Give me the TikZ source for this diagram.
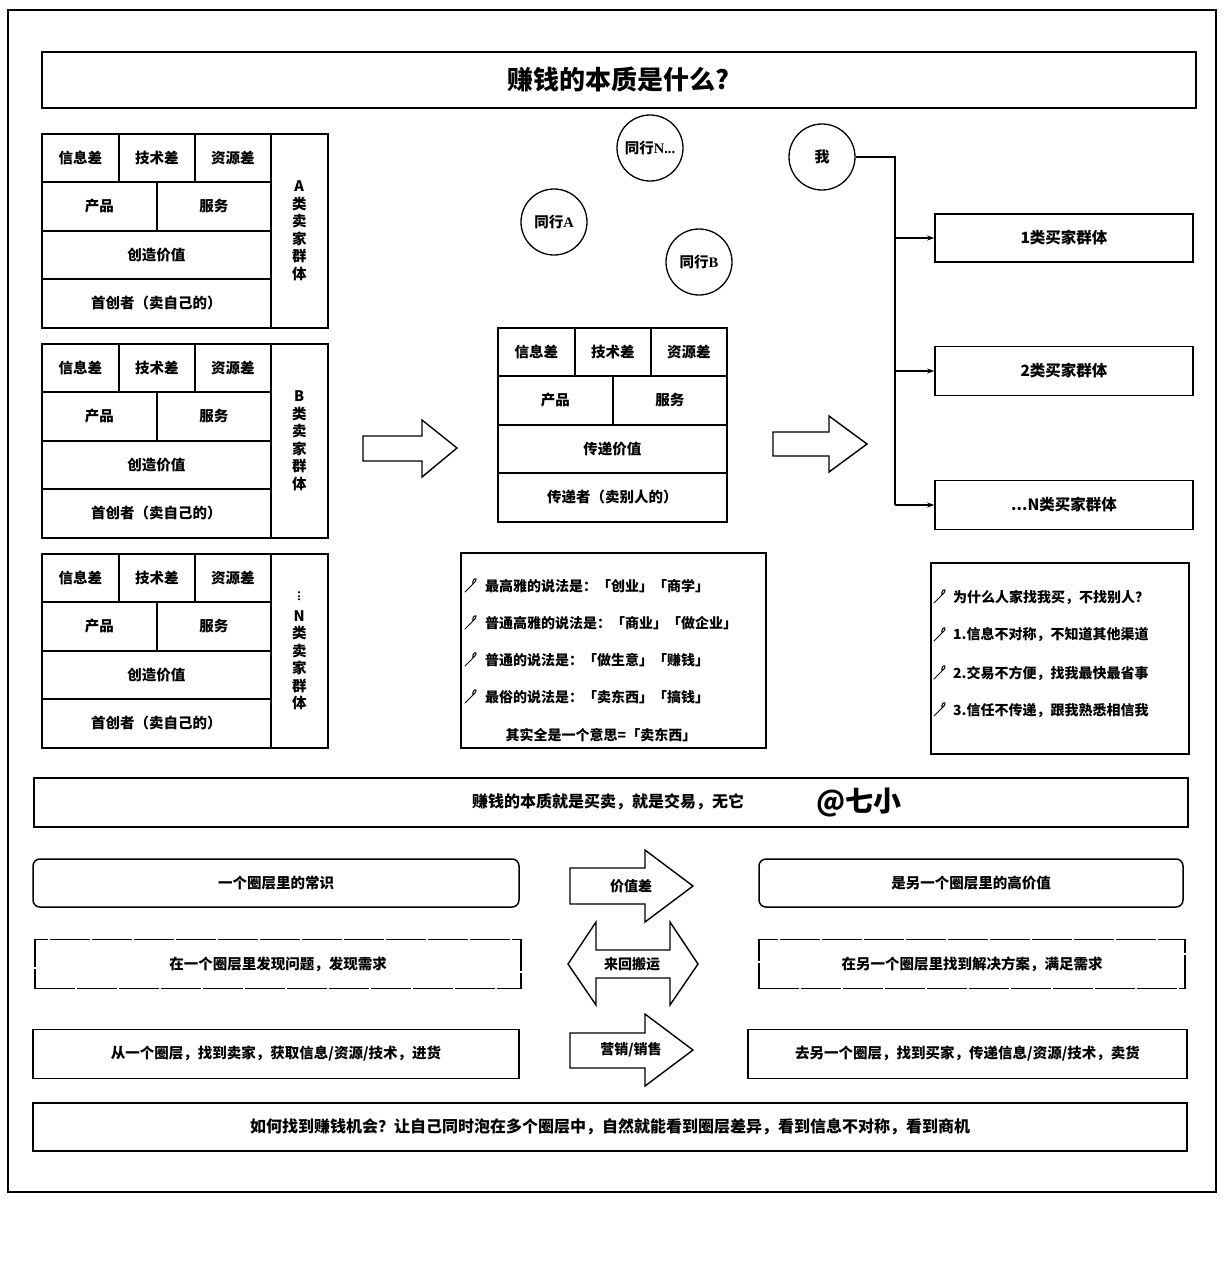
\documentclass[tikz,border=0pt]{standalone}
\usepackage{fontspec}
\setmainfont{Noto Sans CJK SC}
\newfontfamily\latserif{Liberation Serif}
\usetikzlibrary{arrows.meta}
\newcommand\fz[2]{\bfseries\fontsize{#1}{#2}\selectfont}
\tikzset{
  cell/.style={draw,line width=1.5pt,inner sep=0pt,anchor=north west,font=\fz{14.5}{17.5}},
  cbox/.style={draw,line width=1.5pt,inner sep=0pt,anchor=center,font=\fz{14.5}{17.5}},
  dashbox/.style={dash pattern=on 40pt off 2pt},
  peer/.style={circle,draw,line width=1.3pt,minimum size=66pt,inner sep=0pt,font=\fz{14.5}{17}},
  txt/.style={inner sep=0pt,font=\fz{14}{17}},
  blockarrow/.style={draw,line width=1.4pt,fill=white,line join=miter},
  link/.style={line width=1.4pt},
  tip/.style={-{Stealth[length=7pt,width=5pt]}},
  pinicon/.pic={\draw[line width=1pt,line cap=round] (-6,6) -- (2,-2) .. controls (4,-4) and (6,-6) .. (5,-7) .. controls (4,-8) and (1,-6) .. (2,-2);}
}
\newcommand\cellstack[5]{%
  \node[cell,minimum width=77pt,minimum height=48pt] (#3-c1) at (#1,#2) {信息差};
  \node[cell,minimum width=76pt,minimum height=48pt] (#3-c2) at (#1+77,#2) {技术差};
  \node[cell,minimum width=76pt,minimum height=48pt] (#3-c3) at (#1+153,#2) {资源差};
  \node[cell,minimum width=115pt,minimum height=49pt] (#3-p) at (#1,#2+48) {产品};
  \node[cell,minimum width=114pt,minimum height=49pt] (#3-s) at (#1+115,#2+48) {服务};
  \node[cell,minimum width=229pt,minimum height=48pt] (#3-v) at (#1,#2+97) {#4};
  \node[cell,minimum width=229pt,minimum height=49pt] (#3-r) at (#1,#2+145) {#5};
}
\begin{document}
\begin{tikzpicture}[x=1pt,y=-1pt]
\useasboundingbox (0,0) rectangle (1225,1280);
\fill[white] (0,0) rectangle (1225,1280);
\draw[line width=1.5pt] (8,10) rectangle (1216,1192);

% title
\node[cell,minimum width=1154pt,minimum height=56pt,line width=1.8pt,font=\fz{26}{30}] (title) at (41,51) {赚钱的本质是什么?};

% seller stacks
\cellstack{41}{133}{A}{创造价值}{首创者（卖自己的）}
\node[cell,minimum width=57pt,minimum height=194pt,align=center] (A-side) at (270,133) {A\\类\\卖\\家\\群\\体};
\cellstack{41}{343}{B}{创造价值}{首创者（卖自己的）}
\node[cell,minimum width=57pt,minimum height=194pt,align=center] (B-side) at (270,343) {B\\类\\卖\\家\\群\\体};
\cellstack{41}{553}{N}{创造价值}{首创者（卖自己的）}
\node[cell,minimum width=57pt,minimum height=194pt,align=center] (N-side) at (270,553) {\rotatebox{90}{\fontsize{10}{10}\selectfont ...}\\[2pt]N\\类\\卖\\家\\群\\体};

% middle stack
\cellstack{497}{327}{M}{传递价值}{传递者（卖别人的）}

% block arrows
\draw[blockarrow] (363,436) -- (422,436) -- (422,420) -- (457,448) -- (422,477) -- (422,461) -- (363,461) -- cycle;
\draw[blockarrow] (773,432) -- (829,432) -- (829,416) -- (867,444) -- (829,472) -- (829,456) -- (773,456) -- cycle;

% peers
\node[peer] (pN) at (650,148) {同行{\latserif\bfseries N...}};
\node[peer] (pA) at (554,222) {同行{\latserif\bfseries A}};
\node[peer] (pB) at (699,262) {同行{\latserif\bfseries B}};
\node[peer,font=\fz{15}{17}] (me) at (822,157) {我};

% buyers
\node[cbox,minimum width=258pt,minimum height=48pt,font=\fz{15.5}{18}] (b1) at (1064,238) {1类买家群体};
\node[cbox,minimum width=258pt,minimum height=49pt,font=\fz{15.5}{18}] (b2) at (1064,371) {2类买家群体};
\node[cbox,minimum width=258pt,minimum height=49pt,font=\fz{15.5}{18}] (bN) at (1064,505) {...N类买家群体};
\coordinate (j0) at (895,157);
\coordinate (j1) at (895,238);
\coordinate (j2) at (895,371);
\coordinate (jN) at (895,505);
\draw[link] (me.east) -- (j0) -- (jN);
\draw[link,tip] (j1) -- (b1.west);
\draw[link,tip] (j2) -- (b2.west);
\draw[link,tip] (jN) -- (bN.west);

% sayings box
\node[cell,minimum width=305pt,minimum height=195pt] (talk) at (460,552) {};
\pic at (471,586) {pinicon};
\node[txt,anchor=west] (t1) at (485,586) {最高雅的说法是：「创业」「商学」};
\pic at (471,623) {pinicon};
\node[txt,anchor=west] (t2) at (485,623) {普通高雅的说法是：「商业」「做企业」};
\pic at (471,660) {pinicon};
\node[txt,anchor=west] (t3) at (485,660) {普通的说法是：「做生意」「赚钱」};
\pic at (471,697) {pinicon};
\node[txt,anchor=west] (t4) at (485,697) {最俗的说法是：「卖东西」「搞钱」};
\node[txt] (t5) at (601,735) {其实全是一个意思=「卖东西」};

% why box
\node[cell,minimum width=258pt,minimum height=191pt] (why) at (930,562) {};
\pic at (940,597) {pinicon};
\node[txt,anchor=west] (w1) at (953,597) {为什么人家找我买，不找别人？};
\pic at (940,635) {pinicon};
\node[txt,anchor=west] (w2) at (953,635) {1.信息不对称，不知道其他渠道};
\pic at (940,673) {pinicon};
\node[txt,anchor=west] (w3) at (953,673) {2.交易不方便，找我最快最省事};
\pic at (940,710) {pinicon};
\node[txt,anchor=west] (w4) at (953,710) {3.信任不传递，跟我熟悉相信我};

% summary
\node[cell,minimum width=1154pt,minimum height=49pt] (sum) at (33,777) {};
\node[txt,font=\fz{16}{19}] (sumt) at (608,802) {赚钱的本质就是买卖，就是交易，无它};
\node[txt,font=\fz{28}{32}] (sign) at (859,803) {@七小};

% row 1
\node[cbox,rounded corners=7pt,minimum width=486pt,minimum height=48pt] (r1l) at (276,883) {一个圈层里的常识};
\node[cbox,rounded corners=7pt,minimum width=424pt,minimum height=48pt] (r1r) at (971,883) {是另一个圈层里的高价值};
\draw[blockarrow] (570,868) -- (645,868) -- (645,850) -- (693,886) -- (645,922) -- (645,904) -- (570,904) -- cycle;
\node[txt] (a1) at (631,886) {价值差};

% row 2
\node[cbox,dashbox,minimum width=486pt,minimum height=49pt] (r2l) at (278,964) {在一个圈层里发现问题，发现需求};
\node[cbox,dashbox,minimum width=426pt,minimum height=49pt] (r2r) at (972,964) {在另一个圈层里找到解决方案，满足需求};
\draw[blockarrow] (568,964) -- (596,922) -- (596,950) -- (670,950) -- (670,922) -- (698,964) -- (670,1005) -- (670,978) -- (596,978) -- (596,1005) -- cycle;
\node[txt] (a2) at (632,964) {来回搬运};

% row 3
\node[cbox,minimum width=486pt,minimum height=49pt] (r3l) at (276,1054) {从一个圈层，找到卖家，获取信息/资源/技术，进货};
\node[cbox,minimum width=439pt,minimum height=49pt] (r3r) at (967.5,1054) {去另一个圈层，找到买家，传递信息/资源/技术，卖货};
\draw[blockarrow] (570,1033) -- (645,1033) -- (645,1014) -- (693,1050) -- (645,1086) -- (645,1068) -- (570,1068) -- cycle;
\node[txt] (a3) at (631,1050) {营销/销售};

% final
\node[cbox,minimum width=1154pt,minimum height=48pt,font=\fz{16}{19}] (final) at (610,1127) {如何找到赚钱机会？让自己同时泡在多个圈层中，自然就能看到圈层差异，看到信息不对称，看到商机};
\end{tikzpicture}
\end{document}
